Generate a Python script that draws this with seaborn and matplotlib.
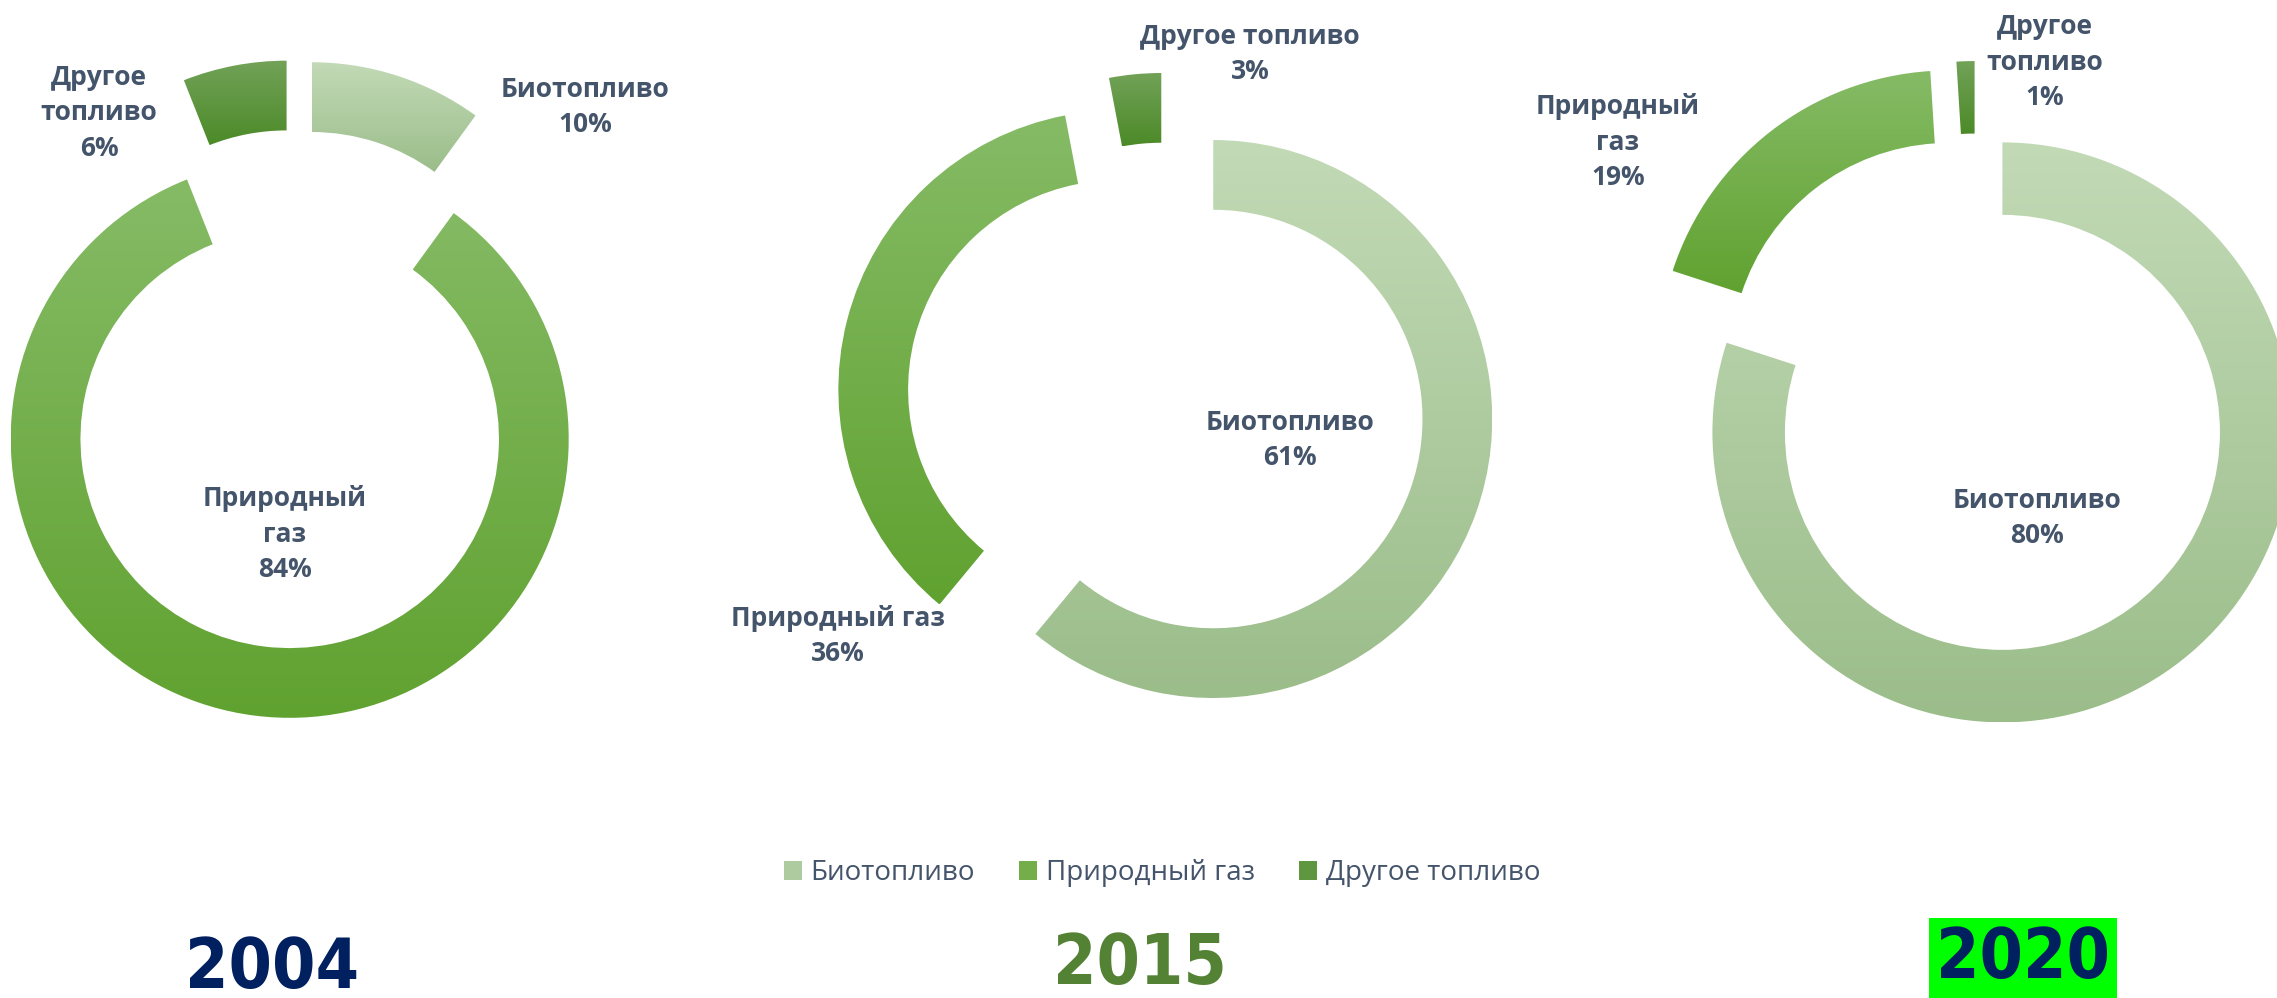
import matplotlib
matplotlib.use("Agg")
import matplotlib.pyplot as plt
import numpy as np
import seaborn as sns
from matplotlib import font_manager as fm
from matplotlib.colors import LinearSegmentedColormap
from matplotlib.patches import Patch

# ------------------- data

years = ["2004", "2015", "2020"]
fuels = ["Биотопливо", "Природный газ", "Другое топливо"]
share_2004 = [10, 84, 6]
share_2015 = [61, 36, 3]
share_2020 = [80, 19, 1]

# data label names, wrapped the way the source chart wraps them
names_2004 = ["Биотопливо", "Природный\nгаз", "Другое\nтопливо"]
names_2015 = ["Биотопливо", "Природный газ", "Другое топливо"]
names_2020 = ["Биотопливо", "Природный\nгаз", "Другое\nтопливо"]

# ------------------- style

W, H = 2277, 998
TEXT = "#44546A"
GRAD = {
    "Биотопливо": ("#C2DAB6", "#9BBD8A"),
    "Природный газ": ("#86BB66", "#60A230"),
    "Другое топливо": ("#72A258", "#4C8A28"),
}
YEAR_COLORS = ["#002060", "#548235", "#002060"]

# per chart: centre (px), outer radius (px), explode fraction
layout = [
    dict(center=(296, 389), r=279, explode=0.18),
    dict(center=(1166, 402), r=279, explode=0.18),
    dict(center=(1976, 396), r=290, explode=0.155),
]
# label positions in pixels: bio, gas, other
label_pos = [
    [(585, 107), (285, 534), (99, 113)],
    [(1290, 440), (838, 636), (1250, 54)],
    [(2037, 518), (1618, 142), (2045, 62)],
]
year_pos = [(272, 988), (1140, 984), (2023, 978)]

sns.set_theme(style="white")
plt.rcParams["font.family"] = ["Open Sans", "DejaVu Sans"]


def condensed_bold():
    rank = {"extra-condensed": 0, "condensed": 1, "ultra-condensed": 2, "semi-condensed": 3}
    found = []
    for f in fm.fontManager.ttflist:
        tag = (f.name + " " + f.fname).lower()
        cond = f.stretch in rank or "condensed" in tag or "narrow" in tag
        w = f.weight if isinstance(f.weight, int) else fm.weight_dict.get(f.weight, 400)
        if cond and w >= 600 and f.style == "normal":
            found.append((rank.get(f.stretch, 1), abs(w - 700), f.fname))
    return sorted(found)[0][2] if found else None


fig = plt.figure(figsize=(W / 100, H / 100), dpi=100)
fig.patch.set_facecolor("white")


def draw_donut(shares, names, lay, lpos):
    ax = fig.add_axes([0, 0, 1, 1])
    ax.patch.set_alpha(0)
    wedges, _ = ax.pie(
        shares,
        startangle=90,
        counterclock=False,
        explode=[lay["explode"]] * len(shares),
        wedgeprops=dict(width=0.25, linewidth=0),
    )
    grad = np.linspace(0, 1, 256).reshape(-1, 1)
    for w, fuel in zip(wedges, fuels):
        top, bottom = GRAD[fuel]
        cmap = LinearSegmentedColormap.from_list(fuel, [top, bottom])
        bb = w.get_path().get_extents()
        im = ax.imshow(grad, cmap=cmap, extent=[bb.x0, bb.x1, bb.y0, bb.y1],
                       aspect="auto", origin="upper", zorder=w.get_zorder())
        im.set_clip_path(w)
        w.set_facecolor("none")
    ox, oy = lay["center"]
    r = lay["r"]
    ax.set_xlim(-ox / r, (W - ox) / r)
    ax.set_ylim(-(H - oy) / r, oy / r)
    ax.set_axis_off()

    for name, val, (px, py) in zip(names, shares, lpos):
        fig.text(px / W, 1 - py / H, f"{name}\n{val}%", ha="center", va="center",
                 fontsize=19, fontweight="bold", color=TEXT, linespacing=1.4)


for shares, names, lay, lp in zip([share_2004, share_2015, share_2020],
                                  [names_2004, names_2015, names_2020],
                                  layout, label_pos):
    draw_donut(shares, names, lay, lp)

# legend
handles = []
for f in fuels:
    top, bottom = GRAD[f]
    mid = LinearSegmentedColormap.from_list(f, [top, bottom])(0.5)
    handles.append(Patch(facecolor=mid, edgecolor="none"))
leg = fig.legend(handles, fuels, loc="center", bbox_to_anchor=(1162 / W, 1 - 873 / H),
                 ncol=3, frameon=False, fontsize=20, handlelength=0.65, handleheight=0.65,
                 handletextpad=0.3, columnspacing=1.6)
for t in leg.get_texts():
    t.set_color(TEXT)

# year captions
cond_file = condensed_bold()
if cond_file:
    year_font = fm.FontProperties(fname=cond_file, size=50, weight="bold")
else:
    year_font = fm.FontProperties(family="DejaVu Sans", size=44, weight="bold")

for yr, (px, py), col in zip(years, year_pos, YEAR_COLORS):
    kw = {}
    if yr == "2020":
        kw["bbox"] = dict(boxstyle="square,pad=0.1", facecolor="#00FF00", edgecolor="none")
    fig.text(px / W, 1 - py / H, yr, ha="center", va="baseline", color=col,
             fontproperties=year_font, **kw)

fig.savefig("out.png", dpi=100, facecolor="white")
